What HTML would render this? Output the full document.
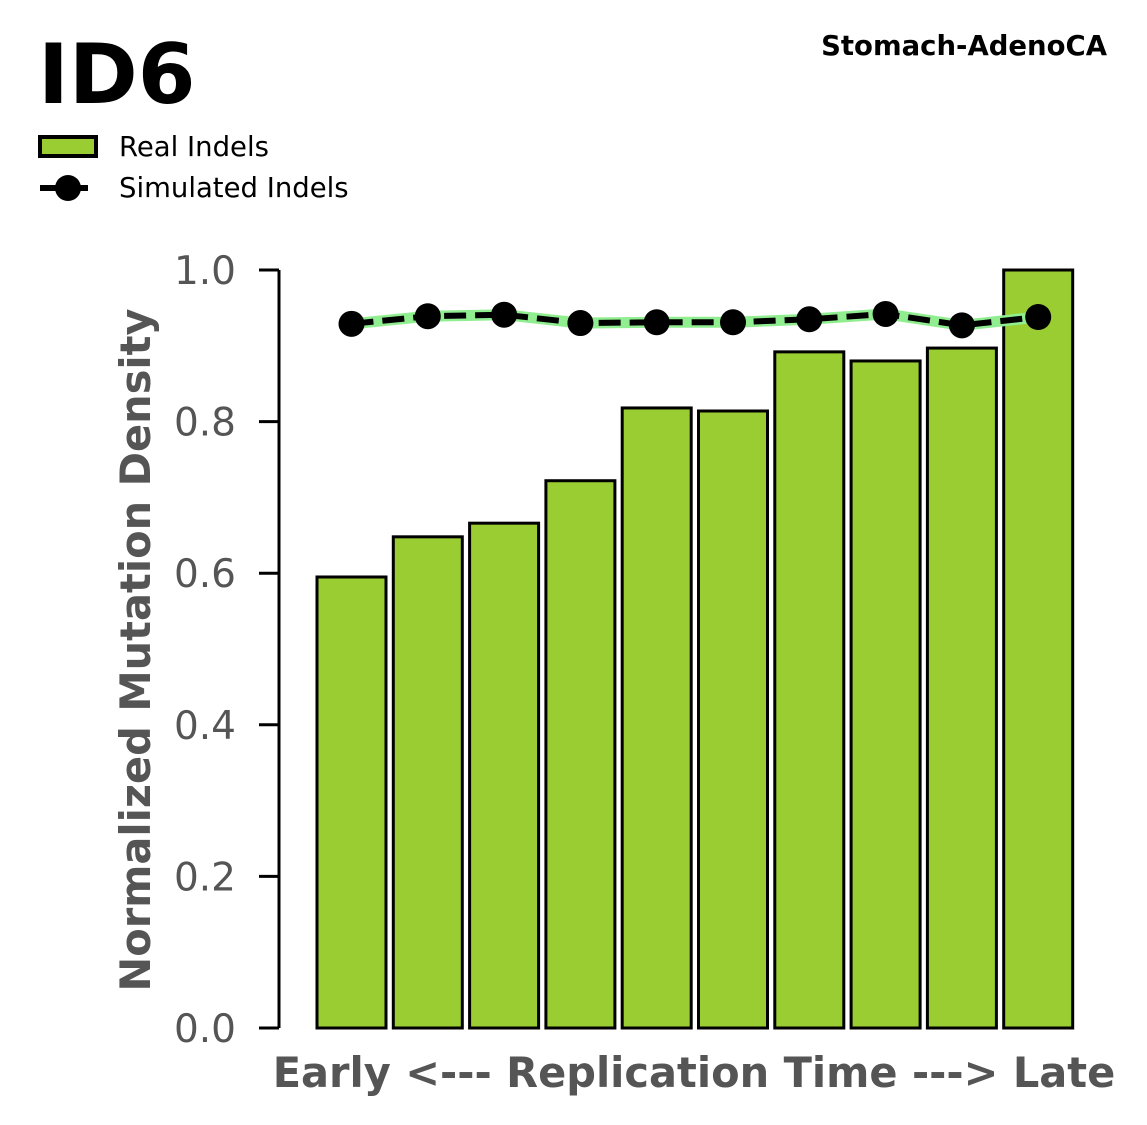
<!DOCTYPE html>
<html><head><meta charset="utf-8"><style>
html,body{margin:0;padding:0;background:#fff;}
svg{display:block;font-family:"Liberation Sans","DejaVu Sans",sans-serif;}
</style></head><body>
<svg id="chart" width="1147" height="1125" viewBox="0 0 1147 1125">
<text x="38" y="103" font-size="83" font-weight="bold" font-family="DejaVu Sans, sans-serif">ID6</text>
<text x="1107" y="55" font-size="27.5" font-weight="bold" text-anchor="end" font-family="DejaVu Sans, sans-serif">Stomach-AdenoCA</text>
<g>
<g>
<rect x="40" y="137" width="56" height="19" fill="#9acd32" stroke="#000" stroke-width="4"/>
<text x="119" y="156" font-size="27.5" font-family="DejaVu Sans, sans-serif">Real Indels</text></g>
<g>
<line x1="40" y1="188" x2="96" y2="188" stroke="#000" stroke-width="6" stroke-dasharray="20,8"/>
<circle cx="68" cy="188" r="13" fill="#000"/>
<text x="119" y="197" font-size="27.5" font-family="DejaVu Sans, sans-serif">Simulated Indels</text></g>
</g>
<g id="axes"></g>
<g id="bars"></g>
<g id="line"></g>
<text transform="translate(150,650) rotate(-90)" text-anchor="middle" font-size="41.5" font-weight="bold" fill="#555" font-family="DejaVu Sans, sans-serif">Normalized Mutation Density</text>
<text x="694" y="1087" text-anchor="middle" font-size="41.5" font-weight="bold" fill="#555" font-family="DejaVu Sans, sans-serif">Early &lt;--- Replication Time ---&gt; Late</text>
</svg>
<script>
const categories = [1,2,3,4,5,6,7,8,9,10];
const realValues = [0.595,0.648,0.666,0.722,0.818,0.814,0.892,0.880,0.897,1.0];
const simValues = [0.929,0.939,0.941,0.930,0.931,0.931,0.935,0.942,0.927,0.938];
const yTicks = [0,0.2,0.4,0.6,0.8,1.0];
const yTickLabels = ["0.0","0.2","0.4","0.6","0.8","1.0"];

const NS="http://www.w3.org/2000/svg";
const y0=1028,y1=270;
const yScale=v=>y0-(v)*(y0-y1);
const pitch=76.3, first=351.5;
const xScale=i=>first+i*pitch;
const bw=69;
function mk(t,a,p){const e=document.createElementNS(NS,t);for(const k in a)e.setAttribute(k,a[k]);p.appendChild(e);return e;}
const axes=document.getElementById('axes');
const spine=mk('line',{x1:279,y1:y1,x2:279,y2:y0,stroke:'#000','stroke-width':3},axes);


yTicks.forEach((t,i)=>{
  const y=yScale(t);
  const tk=mk('line',{x1:259,y1:y,x2:279,y2:y,stroke:'#000','stroke-width':3},axes);
  
  
  const lb=mk('text',{x:236,y:y+14,'text-anchor':'end','font-size':39,fill:'#555','font-family':'DejaVu Sans, sans-serif'},axes);
  lb.textContent=yTickLabels[i];
  
  
});
const bars=document.getElementById('bars');
categories.forEach((c,i)=>{
  const top=yScale(realValues[i]);
  const r=mk('rect',{x:xScale(i)-bw/2,y:top,width:bw,height:y0-top,fill:'#9acd32',stroke:'#000','stroke-width':3},bars);
  
  
});
const line=document.getElementById('line');
const pts=simValues.map((v,i)=>xScale(i)+','+yScale(v)).join(' ');
const g1=mk('polyline',{points:pts,fill:'none',stroke:'#90ee90','stroke-width':11},line);


const g2=mk('polyline',{points:pts,fill:'none',stroke:'#000','stroke-width':6,'stroke-dasharray':'22,9'},line);


simValues.forEach((v,i)=>{
  const p=mk('circle',{cx:xScale(i),cy:yScale(v),r:13,fill:'#000'},line);
  
  
});
</script>
</body></html>
